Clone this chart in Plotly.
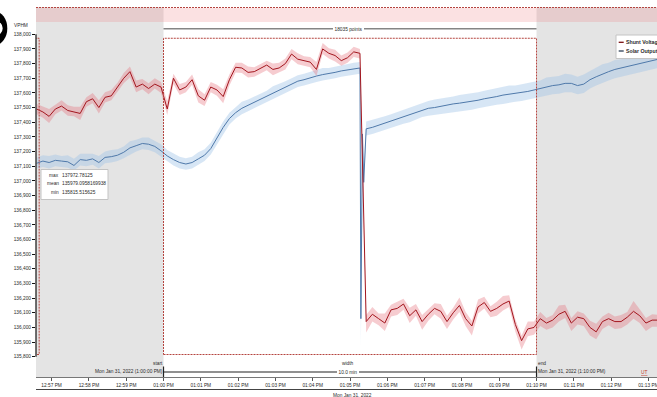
import plotly.graph_objects as go
import pandas as pd

# ---------------- data ----------------
t_start = "2022-01-31 12:56:36"
sample_freq = "10s"

shunt_v = [137490, 137470, 137440, 137490, 137510, 137480, 137470, 137460, 137540, 137560,
           137500, 137570, 137580, 137640, 137700, 137745, 137640, 137660, 137630, 137660,
           137640, 137490, 137700, 137620, 137640, 137690, 137580, 137550, 137640, 137620,
           137575, 137690, 137775, 137770, 137740, 137745, 137765, 137790, 137760, 137770,
           137800, 137865, 137830, 137820, 137810, 137760, 137900, 137870, 137855, 137820,
           137840, 137880, 137870, 136040, 136090, 136060, 136030, 136120, 136130, 136160,
           136080, 136120, 136040, 136090, 136130, 136110, 136040, 136100, 136150, 136060,
           136010, 136140, 136170, 136110, 136130, 136160, 136180, 136020, 135910, 135990,
           136000, 136060, 136030, 136050, 136090, 136110, 136030, 136070, 136060, 136000,
           135970, 136040, 136060, 136040, 136040, 136070, 136110, 136080, 136030, 136050,
           136050]
shunt_hi = [137525, 137505, 137490, 137520, 137550, 137515, 137505, 137505, 137570, 137600,
            137550, 137605, 137620, 137670, 137735, 137780, 137685, 137695, 137665, 137700,
            137675, 137545, 137730, 137660, 137675, 137725, 137625, 137590, 137675, 137655,
            137625, 137725, 137805, 137805, 137780, 137775, 137800, 137820, 137800, 137805,
            137835, 137900, 137870, 137850, 137845, 137810, 137940, 137905, 137895, 137855,
            137875, 137915, 137900, 136085, 136140, 136095, 136095, 136155, 136175, 136195,
            136135, 136160, 136085, 136125, 136165, 136160, 136080, 136135, 136205, 136105,
            136045, 136190, 136210, 136145, 136175, 136215, 136220, 136055, 135945, 136040,
            136040, 136105, 136065, 136085, 136150, 136155, 136065, 136110, 136095, 136045,
            136025, 136075, 136100, 136075, 136085, 136105, 136180, 136125, 136065, 136090,
            136085]
shunt_lo = [137455, 137430, 137395, 137455, 137480, 137445, 137440, 137415, 137505, 137530,
            137460, 137535, 137550, 137605, 137665, 137705, 137605, 137625, 137590, 137630,
            137600, 137450, 137660, 137585, 137605, 137655, 137535, 137510, 137605, 137580,
            137530, 137650, 137740, 137735, 137705, 137710, 137730, 137755, 137720, 137740,
            137760, 137830, 137795, 137785, 137775, 137715, 137865, 137835, 137815, 137785,
            137805, 137845, 137835, 135965, 136040, 136015, 135975, 136075, 136085, 136120,
            136030, 136080, 135985, 136045, 136090, 136060, 135990, 136055, 136105, 136010,
            135945, 136095, 136130, 136070, 136080, 136115, 136140, 135970, 135850, 135940,
            135950, 136010, 135985, 136000, 136040, 136065, 135975, 136020, 136010, 135945,
            135920, 135990, 136015, 135990, 135995, 136020, 136060, 136030, 135975, 136005,
            136005]

solar_v = [137120, 137135, 137125, 137140, 137135, 137130, 137105, 137145, 137140, 137150,
           137125, 137160, 137165, 137175, 137195, 137225, 137240, 137255, 137250, 137235,
           137205, 137170, 137145, 137125, 137115, 137125, 137150, 137175, 137220, 137290,
           137365, 137425, 137465, 137495, 137515, 137535, 137555, 137575, 137600, 137620,
           137640, 137660, 137680, 137690, 137705, 137715, 137725, 137730, 137740, 137750,
           137755, 137765, 137770, 137355, 137365, 137380, 137390, 137405, 137420, 137435,
           137450, 137470, 137485, 137495, 137500, 137510, 137515, 137525, 137530, 137535,
           137540, 137550, 137560, 137565, 137575, 137585, 137590, 137595, 137600, 137610,
           137620, 137630, 137645, 137650, 137655, 137665, 137665, 137650, 137660, 137690,
           137710, 137730, 137745, 137760, 137770, 137780, 137790, 137800, 137810, 137820,
           137830]
solar_hi = [137160, 137175, 137170, 137180, 137170, 137175, 137150, 137185, 137185, 137185,
            137170, 137200, 137210, 137215, 137235, 137270, 137280, 137295, 137295, 137275,
            137250, 137210, 137185, 137165, 137155, 137165, 137195, 137215, 137260, 137330,
            137405, 137465, 137505, 137540, 137555, 137575, 137595, 137615, 137645, 137660,
            137680, 137700, 137720, 137730, 137745, 137755, 137770, 137770, 137780, 137790,
            137795, 137805, 137810, 137405, 137415, 137430, 137440, 137455, 137470, 137485,
            137500, 137520, 137535, 137545, 137555, 137560, 137570, 137575, 137585, 137590,
            137595, 137605, 137615, 137625, 137630, 137640, 137650, 137650, 137660, 137665,
            137675, 137685, 137705, 137710, 137715, 137730, 137725, 137710, 137725, 137750,
            137770, 137795, 137805, 137825, 137830, 137845, 137850, 137865, 137875, 137885,
            137895]
solar_lo = [137085, 137095, 137085, 137100, 137095, 137090, 137070, 137105, 137100, 137110,
            137085, 137120, 137125, 137135, 137155, 137180, 137200, 137215, 137210, 137195,
            137165, 137130, 137105, 137085, 137075, 137085, 137110, 137135, 137180, 137250,
            137320, 137385, 137425, 137455, 137475, 137495, 137515, 137535, 137560, 137580,
            137600, 137620, 137640, 137650, 137665, 137675, 137685, 137690, 137700, 137710,
            137715, 137725, 137730, 137310, 137320, 137335, 137345, 137360, 137375, 137390,
            137400, 137420, 137435, 137445, 137450, 137455, 137465, 137470, 137475, 137480,
            137485, 137495, 137505, 137510, 137520, 137525, 137535, 137540, 137545, 137555,
            137560, 137570, 137585, 137590, 137595, 137605, 137605, 137590, 137600, 137630,
            137650, 137670, 137685, 137700, 137710, 137720, 137730, 137740, 137750, 137760,
            137770]
# extra solar samples around the sudden drop
solar_extra_t = ["2022-01-31 13:05:17.500", "2022-01-31 13:05:20.000", "2022-01-31 13:05:22.000"]
solar_extra_v = [136060, 137320, 136990]
solar_extra_hi = [136200, 137380, 137100]
solar_extra_lo = [135870, 137200, 136900]

series_names = ["Shunt Voltage", "Solar Output"]
y_title = "VPHM"
y_ticks = list(range(135800, 138001, 100))
stat_max = 137972.78125
stat_min = 135815.515625
stats_labels = ["max", "mean", "min"]
stats_values = ["137972.78125", "135979.0958169938", "135815.515625"]
sel_start = "2022-01-31 13:00:00"
sel_end = "2022-01-31 13:10:00"
points_label = "18035 points"
width_label = "10.0 min"
start_label = "Mon Jan 31, 2022 (1:00:00 PM)"
end_label = "Mon Jan 31, 2022 (1:10:00 PM)"
date_label = "Mon Jan 31, 2022"
x_range = ["2022-01-31 12:56:34.9", "2022-01-31 13:13:13.8"]

# ---------------- build ----------------
t_base = pd.date_range(t_start, periods=len(shunt_v), freq=sample_freq)
extra_t = pd.to_datetime(solar_extra_t, format="ISO8601")
solar = pd.DataFrame({"t": list(t_base) + list(extra_t),
                      "v": solar_v + solar_extra_v,
                      "hi": solar_hi + solar_extra_hi,
                      "lo": solar_lo + solar_extra_lo}).sort_values("t")

RED = "#a3161e"
BLUE = "#4f79aa"
FONT = "Liberation Sans, Arial, sans-serif"
TXT = "#2a2a2a"

W, H = 657, 397
ML, MR, MT, MB = 36, 0, 7, 20
PW, PH = W - ML - MR, H - MT - MB


def px(x):
    return (x - ML) / PW


def py(y):
    return (H - MB - y) / PH


fig = go.Figure()
fig.add_trace(go.Scatter(x=solar["t"], y=solar["lo"], mode="lines", line=dict(width=0),
                         showlegend=False, hoverinfo="skip"))
fig.add_trace(go.Scatter(x=solar["t"], y=solar["hi"], mode="lines", line=dict(width=0),
                         fill="tonexty", fillcolor="rgba(160,195,230,0.42)",
                         showlegend=False, hoverinfo="skip"))
fig.add_trace(go.Scatter(x=solar["t"], y=solar["v"], mode="lines", name=series_names[1],
                         line=dict(color=BLUE, width=1), showlegend=False))
fig.add_trace(go.Scatter(x=t_base, y=shunt_lo, mode="lines", line=dict(width=0),
                         showlegend=False, hoverinfo="skip"))
fig.add_trace(go.Scatter(x=t_base, y=shunt_hi, mode="lines", line=dict(width=0),
                         fill="tonexty", fillcolor="rgba(228,110,120,0.35)",
                         showlegend=False, hoverinfo="skip"))
fig.add_trace(go.Scatter(x=t_base, y=shunt_v, mode="lines", name=series_names[0],
                         line=dict(color=RED, width=1), showlegend=False))

shapes = []
GRAY = "#e4e4e4"
# grey out-of-selection regions
shapes.append(dict(type="rect", xref="x", yref="paper", x0="2022-01-31 12:50:00", x1=sel_start,
                   y0=0, y1=1, fillcolor=GRAY, line=dict(width=0), layer="below"))
shapes.append(dict(type="rect", xref="x", yref="paper", x0=sel_end, x1="2022-01-31 13:20:00",
                   y0=0, y1=1, fillcolor=GRAY, line=dict(width=0), layer="below"))
# pink top band
shapes.append(dict(type="rect", xref="paper", yref="paper", x0=0, x1=1, y0=py(22), y1=py(8),
                   fillcolor="rgba(235,120,125,0.22)", line=dict(width=0), layer="below"))
DASH = dict(color="#b5443f", width=1, dash="2px,1px")
shapes.append(dict(type="line", xref="paper", yref="paper", x0=0, x1=1, y0=py(7.5), y1=py(7.5),
                   line=DASH, layer="above"))
# dashed selection rectangles
shapes.append(dict(type="rect", xref="x", yref="y", x0=sel_start, x1=sel_end,
                   y0=stat_min, y1=stat_max, line=DASH, layer="above"))
shapes.append(dict(type="rect", xref="x", yref="y", x0="2022-01-31 12:55:00",
                   x1="2022-01-31 12:56:40", y0=stat_min, y1=stat_max, line=DASH, layer="above"))
# y axis line (domain only)
shapes.append(dict(type="line", xref="paper", yref="y", x0=0, x1=0, y0=y_ticks[0], y1=y_ticks[-1],
                   line=dict(color="#111", width=1.2), layer="above"))
# points bar
shapes.append(dict(type="line", xref="x", yref="paper", x0=sel_start, x1=sel_end, y0=py(28.8),
                   y1=py(28.8), line=dict(color="#858585", width=1.5), layer="above"))
# width bar
shapes.append(dict(type="line", xref="x", yref="paper", x0=sel_start, x1=sel_end, y0=py(372),
                   y1=py(372), line=dict(color="#222", width=1.2), layer="above"))
for xx in (sel_start, sel_end):
    shapes.append(dict(type="line", xref="x", yref="paper", x0=xx, x1=xx, y0=0, y1=py(366.5),
                       line=dict(color="#222", width=1.2), layer="above"))
# bottom rule
shapes.append(dict(type="line", xref="paper", yref="paper", x0=0, x1=1, y0=py(389.5), y1=py(389.5),
                   line=dict(color="#444", width=1), layer="above"))
# stats box
shapes.append(dict(type="rect", xref="paper", yref="paper", x0=px(41), x1=px(108), y0=py(199.5),
                   y1=py(169.5), fillcolor="white", line=dict(color="#c4c4c4", width=1), layer="above"))
# legend box
shapes.append(dict(type="rect", xref="paper", yref="paper", x0=px(616), x1=px(720), y0=py(58.5),
                   y1=py(35), fillcolor="white", line=dict(color="#c4c4c4", width=1), layer="above"))
shapes.append(dict(type="line", xref="paper", yref="paper", x0=px(618.7), x1=px(623.7), y0=py(42.3),
                   y1=py(42.3), line=dict(color="#7a1010", width=1.3), layer="above"))
shapes.append(dict(type="line", xref="paper", yref="paper", x0=px(618.7), x1=px(623.7), y0=py(51),
                   y1=py(51), line=dict(color="#2c3e55", width=1.3), layer="above"))
# cut-off black glyph on the far left
shapes.append(dict(type="circle", xref="paper", yref="paper", x0=px(-17), x1=px(7.3), y0=py(45),
                   y1=py(11.7), fillcolor="black", line=dict(width=0), layer="above"))
shapes.append(dict(type="circle", xref="paper", yref="paper", x0=px(-12), x1=px(2.7), y0=py(35.5),
                   y1=py(21), fillcolor="white", line=dict(width=0), layer="above"))

ann = []


def txt(text, x, y, xref="paper", xanchor="center", size=4.8, color=TXT, bg=None, xshift=0, pad=0):
    d = dict(text=text, x=x, y=y, xref=xref, yref="paper", xanchor=xanchor, yanchor="middle",
             showarrow=False, font=dict(family=FONT, size=size, color=color), borderpad=pad,
             borderwidth=0, xshift=xshift)
    if bg:
        d["bgcolor"] = bg
    ann.append(d)


mid = pd.Timestamp(sel_start) + (pd.Timestamp(sel_end) - pd.Timestamp(sel_start)) / 2
txt(y_title, px(21), py(25.3))
txt(points_label, mid, py(28.8), xref="x", bg="white", xshift=-1.5, pad=1.5)
txt("start", sel_start, py(363), xref="x", xanchor="right", xshift=-1)
txt(start_label, sel_start, py(371.8), xref="x", xanchor="right", xshift=-1)
txt("width", mid, py(363), xref="x", xshift=-2)
txt(width_label, mid, py(372), xref="x", bg="white", xshift=-2, pad=1.5)
txt("end", sel_end, py(363), xref="x", xanchor="left", xshift=1)
txt(end_label, sel_end, py(371.8), xref="x", xanchor="left", xshift=1)
txt("<u>UT</u>", px(641), py(372), xanchor="left", color="#c0392b")
txt(date_label, px(352), py(395.5))
stat_y = [175.3, 183.7, 192.3]
for lab, val, yy in zip(stats_labels, stats_values, stat_y):
    txt(lab, px(59.3), py(yy), xanchor="right")
    txt(val, px(62.3), py(yy), xanchor="left")
txt("<b>" + series_names[0] + "</b>", px(625.7), py(42.3), xanchor="left", size=5.2)
txt("<b>" + series_names[1] + "</b>", px(625.7), py(51), xanchor="left", size=5.2)

fig.update_layout(
    width=W, height=H,
    margin=dict(l=ML, r=MR, t=MT, b=MB, autoexpand=False),
    paper_bgcolor="white", plot_bgcolor="white",
    showlegend=False,
    shapes=shapes, annotations=ann,
    font=dict(family=FONT, size=4.8, color=TXT),
    xaxis=dict(type="date", range=x_range, tickmode="linear", tick0="2022-01-31 12:57:00",
               dtick=60000, tickformat="%I:%M %p", showgrid=False, zeroline=False,
               showline=True, linecolor="#777", linewidth=1, ticks="outside", ticklen=3,
               tickcolor="#555", ticklabeloverflow="allow",
               tickfont=dict(family=FONT, size=4.8, color=TXT)),
    yaxis=dict(range=[135662, 138186], tickmode="array", tickvals=y_ticks, tickformat=",d",
               showgrid=False, zeroline=False, showline=False, ticks="outside", ticklen=3,
               tickcolor="#111", tickfont=dict(family=FONT, size=4.8, color=TXT)),
)

fig.write_html("out.html", config={"displayModeBar": False},
               post_script="document.body.style.margin='0px';document.body.style.overflow='hidden';")
